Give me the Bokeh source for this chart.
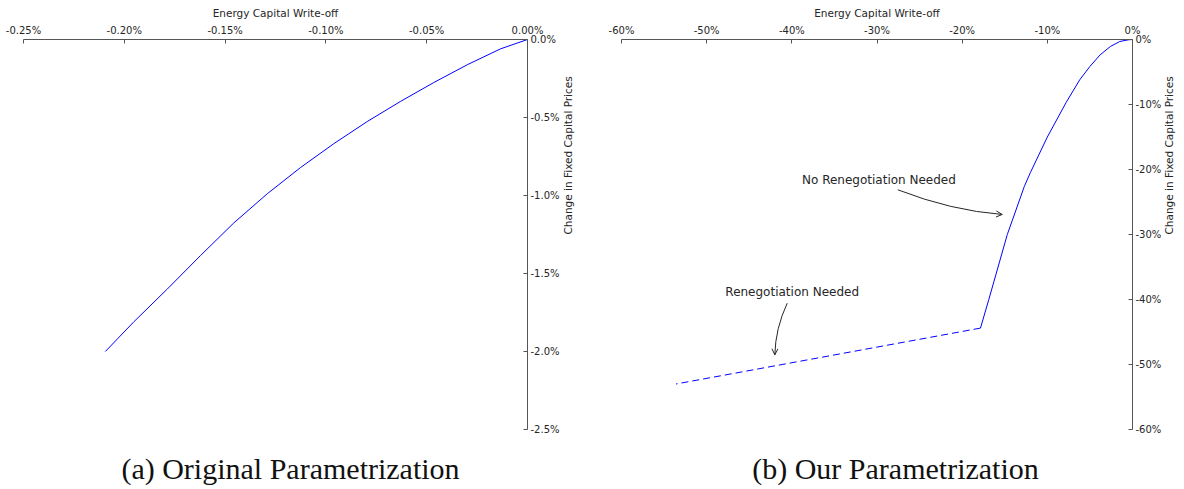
import math
from bokeh.plotting import figure
from bokeh.models import Range1d, FixedTicker, PrintfTickFormatter, Arrow, OpenHead
from bokeh.layouts import row, column
from bokeh.embed import file_html
from bokeh.resources import INLINE
from bokeh.core.properties import value

# ---------------- data ----------------
# (a) Original parametrization  (values in percent)
orig_writeoff = [0.0, -0.0134, -0.0299, -0.0465, -0.063, -0.0795, -0.0961, -0.1126,
                 -0.1291, -0.1457, -0.1622, -0.1787, -0.1953, -0.2094]
orig_price = [0.0, -0.060, -0.162, -0.276, -0.397, -0.526, -0.668, -0.821,
              -0.989, -1.176, -1.385, -1.600, -1.810, -2.0]

# (b) Our parametrization (values in percent)
ours_writeoff_solid = [0.0, -0.5, -1.5, -2.6, -3.8, -5.0, -6.2, -7.8, -10.0, -12.0,
                       -12.7, -14.7, -16.87, -17.85]
ours_price_solid = [0.0, -0.05, -0.31, -1.08, -2.36, -4.15, -6.21, -9.7, -15.0, -20.5,
                    -22.6, -30.0, -40.0, -44.4]
ours_writeoff_dashed = [-17.85, -53.6]
ours_price_dashed = [-44.4, -53.0]

left_xticks = [-0.25, -0.20, -0.15, -0.10, -0.05, 0.0]
left_yticks = [0.0, -0.5, -1.0, -1.5, -2.0, -2.5]
right_xticks = [-60, -50, -40, -30, -20, -10, 0]
right_yticks = [0, -10, -20, -30, -40, -50, -60]

x_title = "Energy Capital Write-off"
y_title = "Change in Fixed Capital Prices"
captions = ["(a) Original Parametrization", "(b) Our Parametrization"]
caption_px = [290, 895]   # caption centres (pixels across the page)

# annotations in panel (b): text positions and curved arrows (start, control, end)
ann_text = ["No Renegotiation Needed", "Renegotiation Needed"]
ann_tx = [-29.77, -39.96]
ann_ty = [-21.69, -38.88]
arr_x0 = [-27.56, -40.54]
arr_y0 = [-23.12, -40.57]
arr_cx = [-21.31, -41.92]
arr_cy = [-26.31, -44.42]
arr_x1 = [-15.30, -42.0]
arr_y1 = [-26.92, -48.51]

AX = "#555555"
TXT = "#262626"
FONT = "DejaVu Sans"


def make_fig(xr, yr, fw, bl, br, xt, yt, xfmt, yfmt):
    p = figure(frame_width=fw, frame_height=390,
               x_range=Range1d(*xr), y_range=Range1d(*yr),
               x_axis_location="above", y_axis_location="right",
               output_backend="svg", toolbar_location=None,
               min_border_left=bl, min_border_right=br,
               min_border_top=39, min_border_bottom=8)
    p.outline_line_color = None
    p.grid.visible = False
    p.background_fill_color = "white"
    p.border_fill_color = "white"
    for ax in (p.xaxis[0], p.yaxis[0]):
        ax.axis_line_color = AX
        ax.major_tick_line_color = AX
        ax.minor_tick_line_color = None
        ax.major_tick_in = 4
        ax.major_tick_out = 0
        ax.major_label_text_font = FONT
        ax.major_label_text_font_size = "10px"
        ax.major_label_text_color = TXT
        ax.axis_label_text_font = FONT
        ax.axis_label_text_font_size = "10.5px"
        ax.axis_label_text_font_style = "normal"
        ax.axis_label_text_color = TXT
    xa = p.xaxis[0]
    xa.ticker = FixedTicker(ticks=xt)
    xa.formatter = PrintfTickFormatter(format=xfmt)
    xa.axis_label = x_title
    xa.major_label_standoff = 4
    xa.axis_label_standoff = 3
    ya = p.yaxis[0]
    ya.ticker = FixedTicker(ticks=yt)
    ya.formatter = PrintfTickFormatter(format=yfmt)
    ya.axis_label = y_title
    ya.major_label_standoff = 3
    ya.axis_label_standoff = 5
    ya.axis_label_orientation = math.pi / 2
    return p


pa = make_fig((-0.25, 0.0), (-2.5, 0.0), 504, 23, 65, left_xticks, left_yticks,
              "%.2f%%", "%.1f%%")
pa.line(orig_writeoff, orig_price, line_color="#0000ff", line_width=1)

pb = make_fig((-60, 0), (-60, 0), 511, 29, 52, right_xticks, right_yticks,
              "%.0f%%", "%.0f%%")
pb.line(ours_writeoff_solid, ours_price_solid, line_color="#0000ff", line_width=1)
pb.line(ours_writeoff_dashed, ours_price_dashed, line_color="#0000ff", line_width=1,
        line_dash="7 4")
pb.text(x=ann_tx, y=ann_ty, text=ann_text, text_font=value(FONT),
        text_font_size=value("12px"), text_color=TXT,
        text_align="center", text_baseline="middle")
pb.quadratic(x0=arr_x0, y0=arr_y0, x1=arr_x1, y1=arr_y1, cx=arr_cx, cy=arr_cy,
             line_color=TXT, line_width=1)
for i in range(len(arr_x1)):
    pb.add_layout(Arrow(end=OpenHead(size=6, line_color=TXT, line_width=1),
                        x_start=arr_cx[i], y_start=arr_cy[i],
                        x_end=arr_x1[i], y_end=arr_y1[i], line_alpha=0))

# caption strip below the two panels
pc = figure(frame_width=1184, frame_height=52, x_range=Range1d(0, 1184),
            y_range=Range1d(52, 0), output_backend="svg", toolbar_location=None,
            min_border=0, x_axis_type=None, y_axis_type=None)
pc.outline_line_color = None
pc.grid.visible = False
pc.border_fill_color = "white"
pc.text(x=caption_px, y=[31, 31], text=captions,
        text_font=value("Liberation Serif"), text_font_size=value("30px"),
        text_color="#111111", text_align="center", text_baseline="middle")

layout = column(row(pa, pb, spacing=0), pc, spacing=0)
open("out.html", "w").write(file_html(layout, INLINE))
